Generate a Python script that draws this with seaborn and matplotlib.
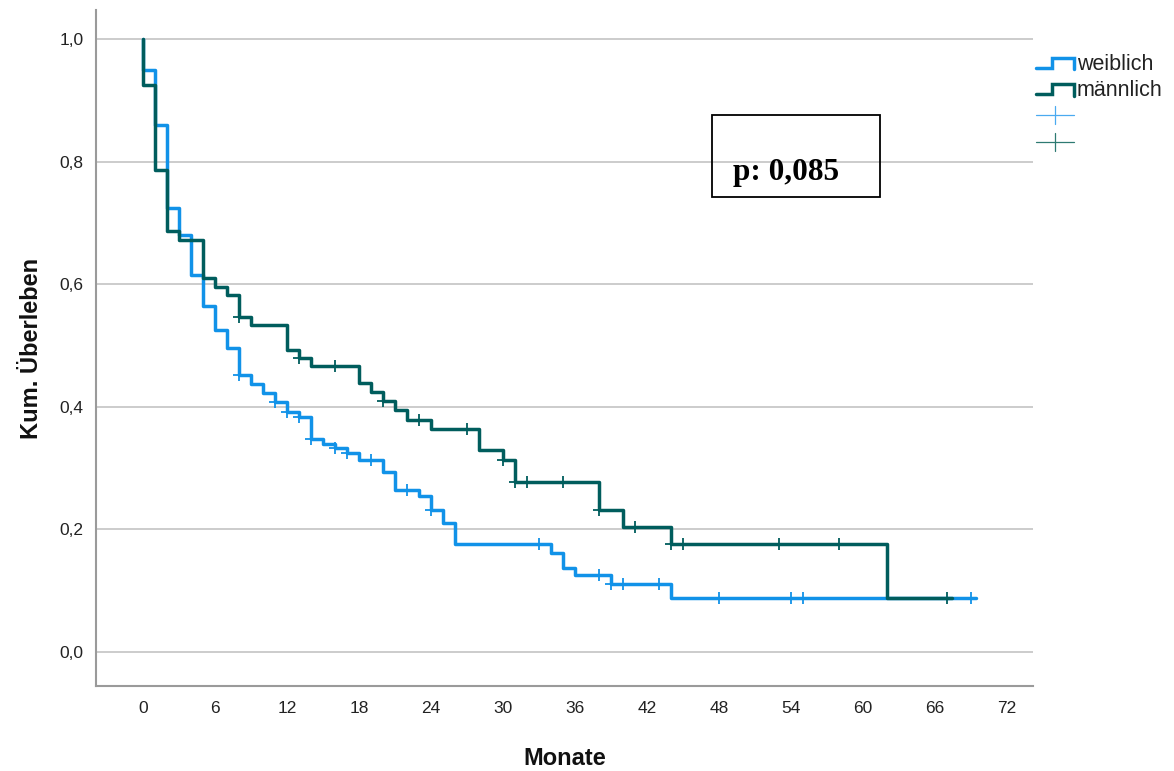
import numpy as np
import pandas as pd
import matplotlib
matplotlib.use("Agg")
import matplotlib.pyplot as plt
import seaborn as sns
from matplotlib.lines import Line2D
from matplotlib.legend_handler import HandlerBase
from matplotlib.patches import Rectangle

# ---------------- data ----------------
groups = ["weiblich", "männlich"]
colors = {"weiblich": "#1192E8", "männlich": "#005D5D"}

w_times = [0, 1, 2, 3, 4, 5, 6, 7, 8, 9, 10, 11, 12, 13, 14, 15, 16, 17, 18,
           20, 21, 23, 24, 25, 26, 34, 35, 36, 39, 44]
w_surv = [0.949, 0.860, 0.724, 0.680, 0.615, 0.564, 0.525, 0.496, 0.452, 0.437,
          0.422, 0.407, 0.392, 0.383, 0.347, 0.340, 0.332, 0.324, 0.314, 0.294,
          0.265, 0.254, 0.232, 0.210, 0.176, 0.162, 0.137, 0.125, 0.111, 0.088]
w_censor = [8, 11, 12, 13, 14, 16, 17, 19, 22, 24, 33, 38, 39, 40, 43, 48, 54, 55, 69]
w_end = 69.4

m_times = [0, 1, 2, 3, 5, 6, 7, 8, 9, 12, 13, 14, 18, 19, 20, 21, 22, 24, 28,
           30, 31, 38, 40, 44, 62]
m_surv = [0.925, 0.786, 0.686, 0.672, 0.610, 0.596, 0.582, 0.547, 0.533, 0.493,
          0.480, 0.466, 0.438, 0.424, 0.410, 0.395, 0.378, 0.363, 0.330, 0.313,
          0.278, 0.232, 0.204, 0.176, 0.088]
m_censor = [8, 13, 16, 20, 23, 27, 30, 31, 32, 35, 38, 41, 44, 45, 53, 58, 67]
m_end = 67.4

x_ticks = [0, 6, 12, 18, 24, 30, 36, 42, 48, 54, 60, 66, 72]
y_ticks = [0.0, 0.2, 0.4, 0.6, 0.8, 1.0]
y_ticklabels = ["0,0", "0,2", "0,4", "0,6", "0,8", "1,0"]
p_text = "p: 0,085"

series = {
    "weiblich": (w_times, w_surv, w_censor, w_end),
    "männlich": (m_times, m_surv, m_censor, m_end),
}

# ---------------- build tables ----------------
curve_rows, cens_rows = [], []
for g in groups:
    t, s, c, end = series[g]
    xs = [0.0] + list(t) + [end]
    ys = [1.0] + list(s) + [s[-1]]
    for a, b in zip(xs, ys):
        curve_rows.append({"Monate": a, "S": b, "Gruppe": g})
    t_arr = np.array(t)
    s_arr = np.array(s)
    for ct in c:
        idx = np.searchsorted(t_arr, ct, side="right") - 1
        lvl = 1.0 if idx < 0 else s_arr[idx]
        cens_rows.append({"Monate": ct, "S": lvl, "Gruppe": g})
curves = pd.DataFrame(curve_rows)
cens = pd.DataFrame(cens_rows)

# ---------------- style ----------------
sns.set_theme(style="white")
plt.rcParams["font.family"] = ["Liberation Sans", "DejaVu Sans"]
tick_size = 12.5
lab_size = 17

fig = plt.figure(figsize=(11.74, 7.71), dpi=100)
ax = fig.add_axes([96 / 1174, 85 / 771, 937 / 1174, 676 / 771])

for g in groups:
    d = curves[curves["Gruppe"] == g]
    sns.lineplot(data=d, x="Monate", y="S", color=colors[g], estimator=None,
                 sort=False, drawstyle="steps-post", linewidth=2.5, ax=ax,
                 legend=False, zorder=3 if g == "männlich" else 2)
for g in groups:
    d = cens[cens["Gruppe"] == g]
    ax.plot(d["Monate"], d["S"], linestyle="none", marker="+",
            markersize=9, markeredgewidth=1.3, color=colors[g],
            zorder=4 if g == "männlich" else 3)

ax.set_xlim(-3.917, 74.17)
ax.set_ylim(-0.0555, 1.0473)
ax.set_xticks(x_ticks)
ax.set_xticklabels([str(v) for v in x_ticks], fontsize=tick_size)
ax.set_yticks(y_ticks)
ax.set_yticklabels(y_ticklabels, fontsize=tick_size)
ax.tick_params(axis="both", length=0, colors="#222222")
ax.tick_params(axis="x", pad=11)
ax.tick_params(axis="y", pad=9)
ax.yaxis.grid(True, color="#c8c8c8", linewidth=1.3)
ax.xaxis.grid(False)
for sp in ["top", "right"]:
    ax.spines[sp].set_visible(False)
for sp in ["left", "bottom"]:
    ax.spines[sp].set_color("#9a9a9a")
    ax.spines[sp].set_linewidth(1.5)

ax.set_xlabel("Monate", fontsize=lab_size, fontweight="bold",
              color="#111111", labelpad=22)
ax.set_ylabel("Kum. Überleben", fontsize=lab_size, fontweight="bold",
              color="#111111", labelpad=12)


# ---------------- legend ----------------
class StepHandler(HandlerBase):
    def create_artists(self, legend, orig_handle, xdescent, ydescent, width,
                       height, fontsize, trans):
        x0 = -xdescent
        y0 = -ydescent
        xs = [x0, x0 + 0.43 * width, x0 + 0.43 * width, x0 + width, x0 + width]
        ys = [y0 + 0.15 * height, y0 + 0.15 * height, y0 + 0.8 * height,
              y0 + 0.8 * height, y0 + 0.05 * height]
        ln = Line2D(xs, ys, color=orig_handle.get_color(), linewidth=2.5,
                    solid_joinstyle="miter", transform=trans)
        return [ln]


class PlusHandler(HandlerBase):
    def create_artists(self, legend, orig_handle, xdescent, ydescent, width,
                       height, fontsize, trans):
        x0 = -xdescent
        y0 = -ydescent
        c = orig_handle.get_color()
        h = Line2D([x0, x0 + width], [y0 + 0.5 * height] * 2, color=c,
                   linewidth=0.9, transform=trans)
        v = Line2D([x0 + 0.5 * width] * 2, [y0 - 0.1 * height, y0 + 1.1 * height],
                   color=c, linewidth=0.9, transform=trans)
        return [h, v]


hw = Line2D([], [], color=colors["weiblich"])
hm = Line2D([], [], color=colors["männlich"])
pw = Line2D([], [], color="#4aaaf0")
pm = Line2D([], [], color="#2e7a72")
leg = fig.legend([hw, hm, pw, pm], ["weiblich", "männlich", " ", " "],
                 handler_map={hw: StepHandler(), hm: StepHandler(),
                              pw: PlusHandler(), pm: PlusHandler()},
                 loc="upper left", bbox_to_anchor=(1036 / 1174, 1 - 54 / 771),
                 frameon=False, fontsize=15.5, handlelength=1.75,
                 handletextpad=0.15, labelspacing=0.25, borderpad=0.0,
                 borderaxespad=0.0)
for t in leg.get_texts():
    t.set_color("#222222")

# ---------------- p-value box ----------------
fig.patches.append(Rectangle((712 / 1174, 1 - 197 / 771), 168 / 1174, 82 / 771,
                             transform=fig.transFigure, fill=False,
                             edgecolor="black", linewidth=1.3))
fig.text(733 / 1174, 1 - 180 / 771, p_text, family=["Liberation Serif"],
         fontsize=22.5, fontweight="bold", ha="left", va="baseline", color="black")

fig.savefig("out.png", dpi=100)
